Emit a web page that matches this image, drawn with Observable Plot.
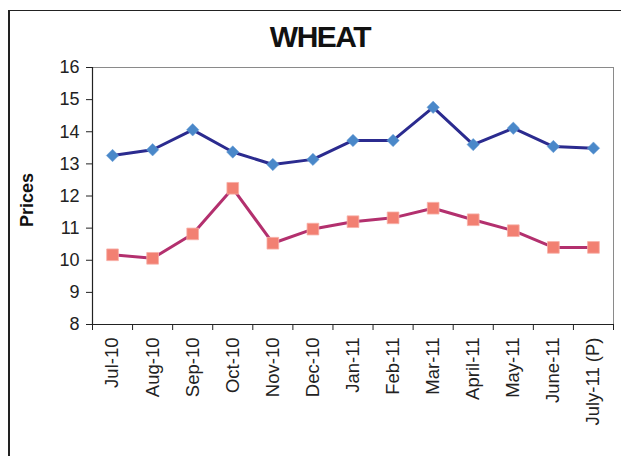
<!DOCTYPE html>
<html>
<head>
<meta charset="utf-8">
<script src="https://cdn.jsdelivr.net/npm/d3@7"></script>
<script src="https://cdn.jsdelivr.net/npm/@observablehq/plot@0.6"></script>
<style>
  html, body { margin: 0; padding: 0; background: #fff; width: 621px; height: 456px; overflow: hidden; }
  body { position: relative; font-family: "Liberation Sans", Arial, sans-serif; }
  #frame { position: absolute; left: 8px; top: 10px; width: 700px; height: 600px;
           border-left: 2px solid #222; border-top: 1px solid #222; }
  #title { position: absolute; left: 0; width: 640px; top: 20px; text-align: center;
           font-size: 30px; font-weight: bold; letter-spacing: -1.5px; color: #111; }
  #chart { position: absolute; left: 0; top: 0; }
</style>
</head>
<body>
<div id="frame"></div>
<div id="title">WHEAT</div>
<div id="chart"></div>
<script>
const months = ["Jul-10","Aug-10","Sep-10","Oct-10","Nov-10","Dec-10","Jan-11","Feb-11","Mar-11","April-11","May-11","June-11","July-11 (P)"];
const blueSeries = [13.26, 13.44, 14.06, 13.37, 12.98, 13.14, 13.73, 13.73, 14.76, 13.60, 14.11, 13.54, 13.49];
const pinkSeries = [10.17, 10.06, 10.82, 12.24, 10.53, 10.97, 11.20, 11.32, 11.62, 11.26, 10.92, 10.40, 10.40];
const yTicks = [8, 9, 10, 11, 12, 13, 14, 15, 16];

const blueData = months.map((m, i) => ({i, v: blueSeries[i]}));
const pinkData = months.map((m, i) => ({i, v: pinkSeries[i]}));
const idx = d3.range(months.length);
const bounds = d3.range(months.length + 1).map(k => k - 0.5);

const font = "Liberation Sans, Arial, sans-serif";

const chart = Plot.plot({
  width: 621,
  height: 456,
  marginTop: 67,
  marginBottom: 132,
  marginLeft: 92,
  marginRight: 8,
  style: {fontFamily: font, color: "#222", background: "transparent"},
  x: {type: "linear", domain: [-0.5, months.length - 0.5]},
  y: {domain: [8, 16]},
  marks: [
    Plot.frame({stroke: "#8a8a8a", strokeWidth: 1}),
    Plot.axisY({ticks: yTicks, tickSize: 6, tickPadding: 7, fontSize: 18, label: null, stroke: "#222"}),
    Plot.axisX({ticks: bounds, tickSize: 6, tickFormat: () => "", label: null, stroke: "#222"}),
    Plot.axisX({ticks: idx, tickSize: 0, tickPadding: 13, tickRotate: -90, fontSize: 18.5,
                tickFormat: i => months[i], label: null}),
    Plot.ruleX([-0.5], {stroke: "#222", strokeWidth: 1.2}),
    Plot.ruleY([8], {stroke: "#222", strokeWidth: 1.2}),
    Plot.text(["Prices"], {frameAnchor: "left", textAnchor: "middle", rotate: -90, dx: -65, dy: 4,
                fontSize: 18, fontWeight: "bold", fill: "#111"}),
    Plot.line(blueData, {x: "i", y: "v", stroke: "#2b2b8f", strokeWidth: 3}),
    Plot.line(pinkData, {x: "i", y: "v", stroke: "#b3306e", strokeWidth: 3}),
    Plot.dot(blueData, {x: "i", y: "v", symbol: "diamond2", r: 5.6, fill: "#4a88c9", stroke: "#6a9fd6", strokeWidth: 0.5}),
    Plot.dot(pinkData, {x: "i", y: "v", symbol: "square", r: 6.6, fill: "#f28072", stroke: "#f7b0a8", strokeWidth: 0.8})
  ]
});
document.getElementById("chart").appendChild(chart);
</script>
</body>
</html>
